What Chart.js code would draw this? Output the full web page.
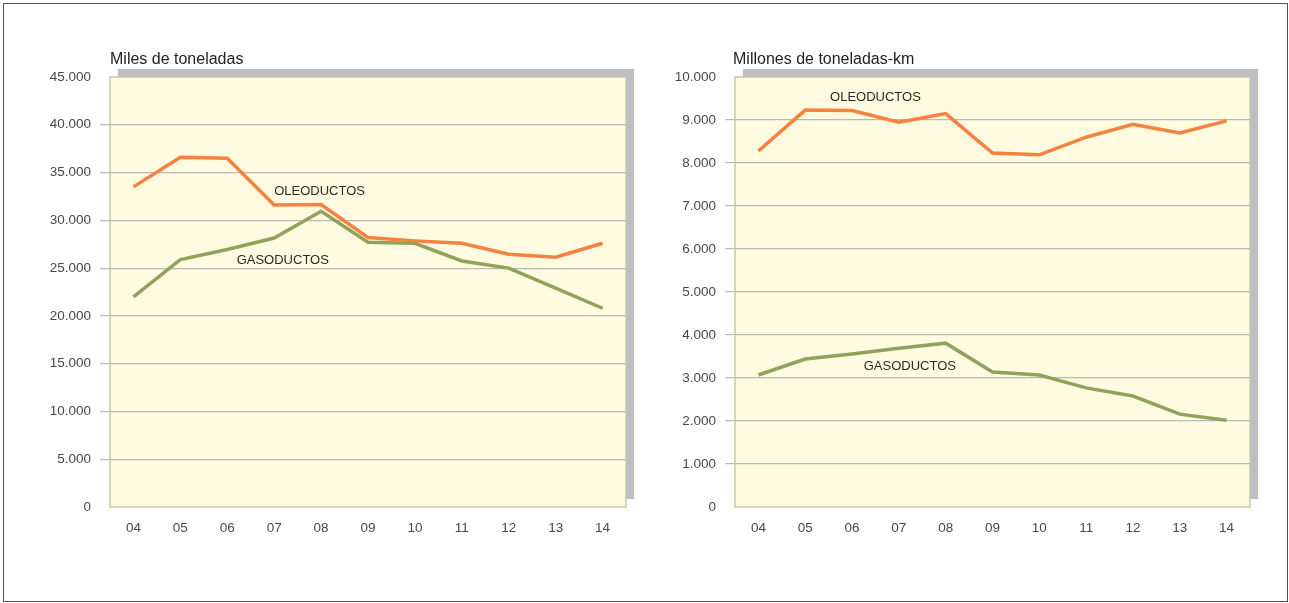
<!DOCTYPE html>
<html><head><meta charset="utf-8">
<script src="https://cdn.jsdelivr.net/npm/chart.js@4.4.1/dist/chart.umd.min.js"></script>
<style>
html,body{margin:0;padding:0;background:#fff;}
body{width:1289px;height:603px;position:relative;overflow:hidden;}
#frame{position:absolute;left:3px;top:3px;width:1283px;height:597px;border:1px solid #555;}
.box{position:absolute;top:0;height:603px;}
</style></head><body>
<div id="frame"></div>
<div class="box" style="left:0;width:645px"><canvas id="c1"></canvas></div>
<div class="box" style="left:645px;width:644px"><canvas id="c2"></canvas></div>
<script>
// ---- data ----
const years = ['04','05','06','07','08','09','10','11','12','13','14'];
const tonOleoductos = [33500, 36600, 36500, 31600, 31650, 28200, 27850, 27600, 26450, 26150, 27600];
const tonGasoductos = [22000, 25900, 26950, 28150, 30950, 27700, 27600, 25750, 25000, 22900, 20800];
const tkmOleoductos = [8280, 9230, 9220, 8950, 9150, 8230, 8190, 8600, 8900, 8700, 8980];
const tkmGasoductos = [3070, 3440, 3560, 3690, 3810, 3140, 3070, 2770, 2580, 2160, 2020];
const leftMax = 45000, leftStep = 5000;
const rightMax = 10000, rightStep = 1000;
const leftTitle = 'Miles de toneladas';
const rightTitle = 'Millones de toneladas-km';
const seriesNames = ['OLEODUCTOS', 'GASODUCTOS'];
// label anchors in data coordinates [category index, value]
const leftLabelPos = [[3.0, 33000], [2.2, 25850]];
const rightLabelPos = [[1.53, 9520], [2.25, 3280]];

const ORANGE = '#f5823f', GREEN = '#91a35b';
const FILL = '#fffbe0', EDGE = '#cdc8a6', SHADOW = '#bdbec2', GRID = '#b9b9b9';
const TICKFONT = '"Liberation Sans",Arial,Helvetica,sans-serif';
const SANS = '"Liberation Sans",Arial,Helvetica,sans-serif';

function fmt(v){ return String(v).replace(/\B(?=(\d{3})+(?!\d))/g, '.'); }

const decor = {
  id: 'decor',
  beforeDraw(chart, args, opts){
    const {ctx, chartArea: a} = chart;
    ctx.save();
    ctx.fillStyle = SHADOW;
    ctx.fillRect(a.left + 8, a.top - 8, a.right - a.left, a.bottom - a.top);
    ctx.fillStyle = FILL;
    ctx.fillRect(a.left, a.top, a.right - a.left, a.bottom - a.top);
    ctx.strokeStyle = EDGE; ctx.lineWidth = 1.5;
    ctx.strokeRect(a.left, a.top, a.right - a.left, a.bottom - a.top);
    ctx.restore();
  },
  afterDraw(chart, args, opts){
    const {ctx, chartArea: a, scales} = chart;
    ctx.save();
    ctx.fillStyle = '#222';
    ctx.font = '16px ' + SANS;
    ctx.textAlign = 'left'; ctx.textBaseline = 'alphabetic';
    ctx.fillText(opts.title, a.left + opts.titleDx, 64);
    ctx.fillStyle = '#2a2a2a';
    ctx.font = '13px ' + SANS;
    ctx.textBaseline = 'middle';
    opts.labels.forEach((p, i) => {
      const x = scales.x.getPixelForValue(p[0]);
      const y = scales.y.getPixelForValue(p[1]);
      ctx.fillText(seriesNames[i], x, y);
    });
    ctx.restore();
  }
};

function makeChart(id, oleo, gas, max, step, title, titleDx, labels, padRight){
  return new Chart(document.getElementById(id), {
    type: 'line',
    data: {
      labels: years,
      datasets: [
        {label: seriesNames[0], data: oleo, borderColor: ORANGE, borderWidth: 3.5, pointRadius: 0, tension: 0, fill: false},
        {label: seriesNames[1], data: gas, borderColor: GREEN, borderWidth: 3.5, pointRadius: 0, tension: 0, fill: false}
      ]
    },
    options: {
      responsive: true, maintainAspectRatio: false, animation: false,
      layout: {padding: {top: 77, left: 0, right: padRight, bottom: 0}},
      plugins: {legend: {display: false}, tooltip: {enabled: false},
        decor: {title, titleDx, labels}},
      scales: {
        x: {
          offset: true,
          grid: {display: false, drawTicks: false},
          border: {display: false},
          ticks: {color: '#484848', font: {family: TICKFONT, size: 13.5}, padding: 13, maxRotation: 0},
          afterFit(s){ s.height = 96; }
        },
        y: {
          min: 0, max: max,
          border: {display: false},
          grid: {
            color: c => (c.tick && (c.tick.value === 0 || c.tick.value === max)) ? 'rgba(0,0,0,0)' : GRID,
            lineWidth: 1.2, tickLength: 10, drawTicks: true
          },
          ticks: {stepSize: step, color: '#484848', font: {family: TICKFONT, size: 13.5}, padding: 9,
            callback: v => fmt(v)},
          afterFit(s){ s.width = 90 + (id === 'c1' ? 20 : 0); }
        }
      }
    },
    plugins: [decor]
  });
}

makeChart('c1', tonOleoductos, tonGasoductos, leftMax, leftStep, leftTitle, 0, leftLabelPos, 19);
makeChart('c2', tkmOleoductos, tkmGasoductos, rightMax, rightStep, rightTitle, -2, rightLabelPos, 39);
</script>
</body></html>
